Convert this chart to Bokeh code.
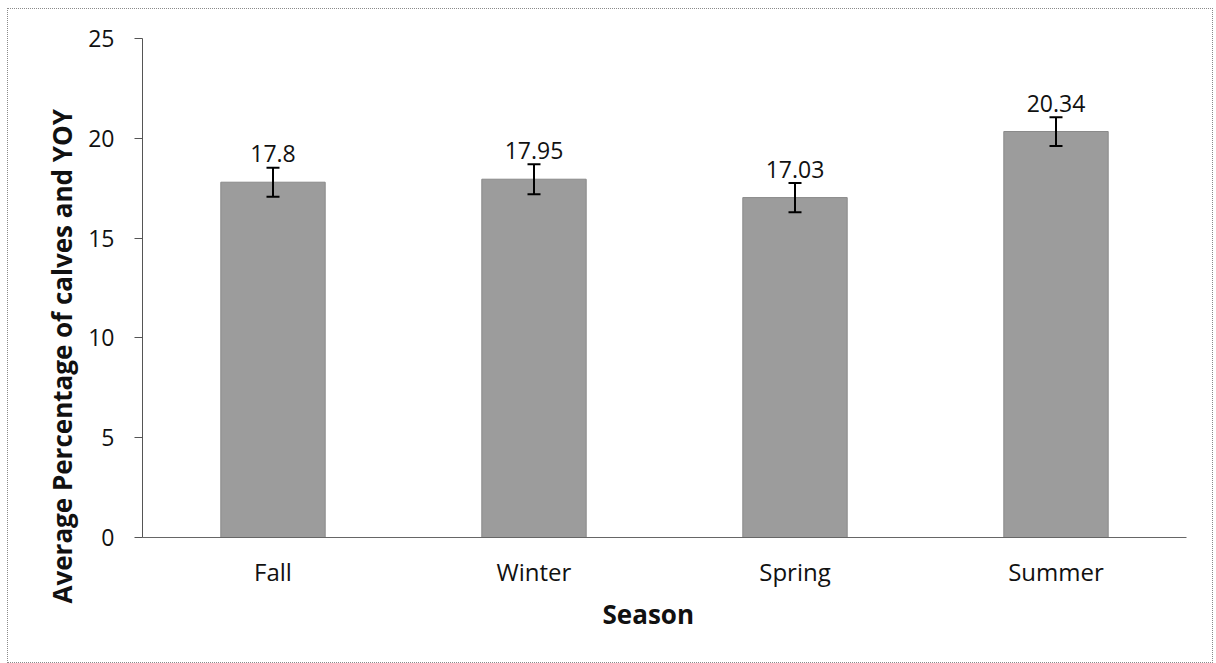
from bokeh.plotting import figure
from bokeh.layouts import column
from bokeh.models import (ColumnDataSource, Whisker, LabelSet, TeeHead, Range1d, FactorRange,
                          FixedTicker, Title)
from bokeh.embed import file_html
from bokeh.resources import INLINE
from bokeh.core.properties import value

seasons = ["Fall", "Winter", "Spring", "Summer"]
averages = [17.8, 17.95, 17.03, 20.34]
errors = [0.73, 0.75, 0.73, 0.72]
value_labels = ["17.8", "17.95", "17.03", "20.34"]
y_ticks = [0, 5, 10, 15, 20, 25]

src = ColumnDataSource(dict(
    x=seasons,
    top=averages,
    upper=[a + e for a, e in zip(averages, errors)],
    lower=[a - e for a, e in zip(averages, errors)],
    lab=value_labels,
))

FONT = "Open Sans"

p = figure(width=1204, height=653, x_range=FactorRange(*seasons), y_range=Range1d(0, 25),
           output_backend="svg", toolbar_location=None,
           min_border_left=134, min_border_right=26, min_border_top=29, min_border_bottom=125)
p.x_range.range_padding = 0
p.outline_line_color = None
p.grid.visible = False
p.background_fill_color = "white"
p.border_fill_color = "white"

p.vbar(x="x", top="top", width=0.40, source=src, fill_color="#9c9c9c", line_color="#8a8a8a", line_width=1)

w = Whisker(base="x", upper="upper", lower="lower", source=src,
            line_color="black", line_width=2, level="overlay",
            upper_head=TeeHead(size=13, line_color="black", line_width=2),
            lower_head=TeeHead(size=13, line_color="black", line_width=2))
p.add_layout(w)

labels = LabelSet(x="x", y="top", text="lab", source=src, y_offset=20,
                  text_align="center", text_baseline="alphabetic",
                  text_font=value(FONT), text_font_size="23px", text_color="#111111")
p.add_layout(labels)

# y axis (ticks and numbers)
p.yaxis.ticker = FixedTicker(ticks=y_ticks)
p.yaxis.minor_tick_line_color = None
p.yaxis.major_tick_in = 0
p.yaxis.major_tick_out = 8
p.yaxis.major_label_standoff = 20
p.yaxis.axis_line_color = "#555555"
p.yaxis.major_tick_line_color = "#555555"
p.yaxis.major_label_text_font = FONT
p.yaxis.major_label_text_font_size = "23px"
p.yaxis.major_label_text_color = "#111111"

# y title, placed lower than centre as in the original
ytitle = Title(text="Average Percentage of calves and YOY", align="left", offset=-66,
               vertical_align="bottom", standoff=12,
               text_font=FONT, text_font_size="26px", text_font_style="bold",
               text_color="#111111")
p.add_layout(ytitle, "left")

# x axis (category names)
p.xaxis.major_tick_line_color = None
p.xaxis.minor_tick_line_color = None
p.xaxis.axis_line_color = "#666666"
p.xaxis.major_label_text_font = FONT
p.xaxis.major_label_text_font_size = "24px"
p.xaxis.major_label_text_color = "#111111"
p.xaxis.major_label_standoff = 11

# x title, slightly left of centre as in the original
xtitle = Title(text="Season", align="left", offset=460,
               vertical_align="top", standoff=10,
               text_font=FONT, text_font_size="26px", text_font_style="bold",
               text_color="#111111")
p.add_layout(xtitle, "below")

layout = column(p, styles={"border": "1px dotted #8a8a8a", "margin-left": "7px", "margin-top": "8px"})

open("out.html", "w").write(file_html(layout, INLINE))
